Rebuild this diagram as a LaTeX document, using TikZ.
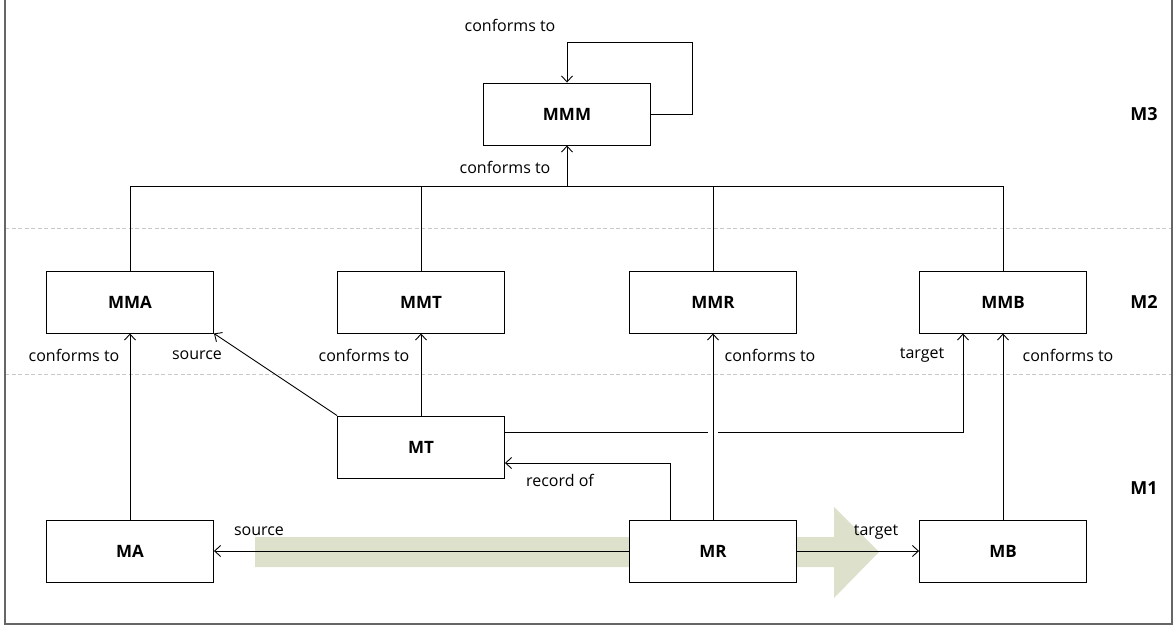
\documentclass[tikz,border=0pt]{standalone}
\usepackage{fontspec}
\setmainfont{Open Sans}
\usetikzlibrary{arrows.meta,calc}
\definecolor{flow}{HTML}{DDE1CC}
\definecolor{sep}{HTML}{C8C8C8}
\begin{document}
\begin{tikzpicture}[x=1pt,y=-1pt,
  box/.style={draw, fill=white, line width=0.9pt, minimum width=167pt, minimum height=62pt,
    inner sep=0pt, font=\bfseries\fontsize{17}{19}\selectfont},
  lbl/.style={inner sep=0pt, font=\fontsize{16}{18}\selectfont},
  level/.style={inner sep=0pt, font=\bfseries\fontsize{18}{20}\selectfont},
  wire/.style={line width=0.9pt},
  conn/.style={wire, -{Straight Barb[length=6pt,width=11pt]}},
  layer/.style={sep, line width=0.8pt, dash pattern=on 4pt off 2.5pt}]
\useasboundingbox (0,0) rectangle (1174,627);

% layer separators and frame
\draw[layer] (5,228) -- (1172,228);
\draw[layer] (5,374) -- (1172,374);
\draw[black!60, line width=1.2pt] (5,0) -- (5,624) -- (1172,624) -- (1172,0);

% transformation flow arrow
\fill[flow] (255,537) -- (834,537) -- (834,507) -- (879,552) -- (834,598)
  -- (834,567) -- (255,567) -- cycle;

% models
\node[box] (MMM) at (567,114) {MMM};
\node[box] (MMA) at (130,302) {MMA};
\node[box] (MMT) at (421,302) {MMT};
\node[box] (MMR) at (713,302) {MMR};
\node[box] (MMB) at (1003,302) {MMB};
\node[box] (MT) at (421,447) {MT};
\node[box] (MA) at (130,551) {MA};
\node[box] (MR) at (713,551) {MR};
\node[box] (MB) at (1003,551) {MB};

% level labels
\node[level] (L3) at (1144,114) {M3};
\node[level] (L2) at (1144,302) {M2};
\node[level] (L1) at (1144,488) {M1};

% metametamodel conforms to itself
\coordinate (loopA) at (692,114);
\coordinate (loopB) at (692,42);
\draw[conn] (MMM.east) -- (loopA) -- (loopB) -- (MMM.north |- loopB) -- (MMM.north);

% metamodels conform to the metametamodel
\coordinate (bus) at (567,186);
\draw[wire] (MMA.north) -- (MMA.north |- bus) -- (MMB.north |- bus) -- (MMB.north);
\draw[wire] (MMT.north) -- (MMT.north |- bus);
\draw[wire] (MMR.north) -- (MMR.north |- bus);
\draw[conn] (bus) -- (MMM.south);

% models conform to their metamodels
\draw[conn] (MA.north) -- (MMA.south);
\draw[conn] (MT.north) -- (MMT.south);
\draw[conn] (MR.north) -- (MMR.south);
\draw[conn] (MB.north) -- (MMB.south);

% transformation source and target
\draw[conn] (MT.north west) -- (MMA.south east);
\coordinate (jumpL) at (708,432);
\coordinate (jumpR) at (718,432);
\coordinate (tgt) at (963,432);
\draw[wire] ($(MT.east)+(0,-15)$) -- (jumpL);
\draw[conn] (jumpR) -- (tgt) -- (tgt |- MMB.south);

% record of the transformation
\coordinate (rec) at ($(MR.north west)+(41,0)$);
\draw[conn] (rec) |- ($(MT.east)+(0,16)$);

% record source and target
\draw[conn] (MR.west) -- (MA.east);
\draw[conn] (MR.east) -- (MB.west);

% connector labels
\node[lbl] (t1) at (510,25) {conforms to};
\node[lbl] (t2) at (505,167) {conforms to};
\node[lbl] (t3) at (74,355) {conforms to};
\node[lbl] (t4) at (197,355) {source};
\node[lbl] (t5) at (364,355) {conforms to};
\node[lbl] (t6) at (770,355) {conforms to};
\node[lbl] (t7) at (922,355) {target};
\node[lbl] (t8) at (1068,355) {conforms to};
\node[lbl] (t9) at (560,480) {record of};
\node[lbl] (t10) at (259,531) {source};
\node[lbl] (t11) at (876,532) {target};
\end{tikzpicture}
\end{document}
